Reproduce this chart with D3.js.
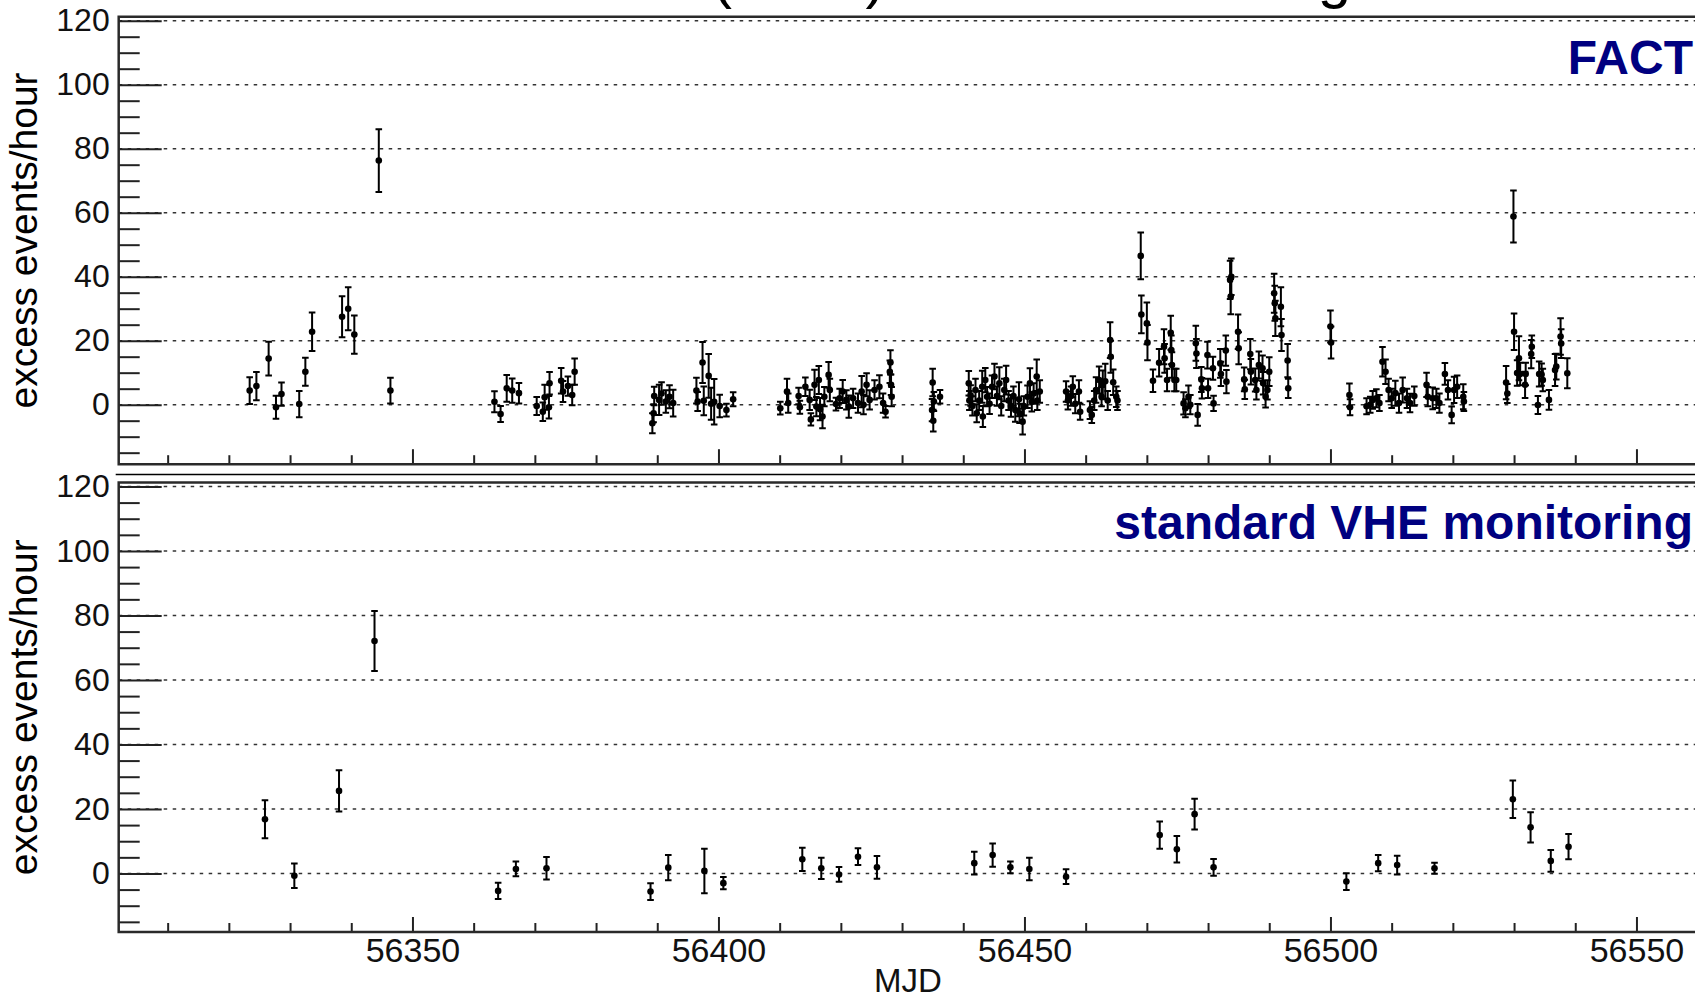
<!DOCTYPE html>
<html>
<head>
<meta charset="utf-8">
<script src="https://cdn.jsdelivr.net/npm/d3@7"></script>
<style>
    body { margin: 0; background: #fff; }
    svg { display: block; }
</style>
</head>
<body>
<svg id="chart" width="1695" height="998"></svg>
<script>
// FACT nightly excess rates (MJD, events/hour, error), one line per observation block
const factMjd = [
    56323.4, 56324.5, 56326.5, 56327.7, 56328.6, 56331.5, 56332.5, 56333.6, 56338.5, 56339.5, 56340.5, 56344.5, 56346.4,
    56363.4, 56364.4, 56365.4, 56366.3, 56367.4, 56370.3, 56371.3, 56371.6, 56372.3, 56372.4, 56374.3, 56374.6, 56375.4, 56376.1, 56376.5,
    56389.2, 56389.4, 56389.5, 56390.3, 56390.7, 56391.4, 56392.0, 56392.6, 56396.4, 56396.6, 56397.4, 56397.6, 56398.4, 56398.8, 56399.3, 56400.2, 56401.3, 56402.4,
    56410.1, 56411.2, 56411.4, 56413.1, 56413.3, 56414.2, 56414.9, 56415.1, 56415.7, 56416.0, 56416.4, 56416.6, 56417.0, 56417.3, 56418.0, 56418.2, 56419.2, 56419.8, 56420.3, 56420.9, 56421.3, 56422.0, 56422.8, 56423.4, 56423.7, 56424.2, 56424.7, 56425.5, 56426.3, 56426.9, 56427.3, 56428.0, 56428.1, 56428.2, 56428.3,
    56434.9, 56435.0, 56435.1, 56435.2, 56436.2,
    56440.9, 56441.0, 56441.2, 56441.5, 56442.0, 56442.2, 56442.6, 56443.1, 56443.2, 56443.6, 56443.9, 56444.3, 56444.7, 56445.1, 56445.5, 56445.9, 56446.2, 56446.7, 56447.0, 56447.4, 56447.8, 56448.2, 56448.5, 56449.1, 56449.2, 56449.7, 56449.9, 56450.5, 56450.9, 56451.2, 56451.5, 56452.0, 56452.1, 56452.5,
    56456.8, 56457.1, 56457.6, 56457.9, 56458.3, 56458.9, 56459.1,
    56460.7, 56461.0, 56461.4, 56461.7, 56462.2, 56462.6, 56462.8, 56463.2, 56463.6, 56464.0, 56464.1, 56464.5, 56465.0, 56465.2,
    56469.0, 56469.1, 56470.0, 56470.1, 56471.0, 56472.0, 56472.8, 56472.9, 56473.3, 56473.9, 56474.0, 56474.1, 56474.5, 56474.8,
    56476.0, 56476.3, 56476.8, 56477.1, 56478.0, 56478.1, 56478.3, 56478.9, 56479.0, 56479.9, 56480.0, 56480.8, 56480.9, 56482.0, 56482.1, 56482.9, 56483.0, 56483.6, 56483.7, 56483.8, 56484.9, 56485.0, 56485.9, 56486.0, 56486.9, 56487.0, 56487.7, 56487.9, 56488.3, 56488.9, 56489.0, 56489.4, 56489.7, 56490.0, 56490.8, 56490.9, 56491.0, 56491.9, 56492.0, 56493.0, 56493.1,
    56500.0, 56500.1, 56503.1, 56503.2, 56505.9, 56506.5, 56506.9, 56507.5, 56508.0, 56508.5, 56509.0, 56509.5, 56510.0, 56510.6, 56511.2, 56511.8, 56512.5, 56513.0, 56513.7, 56515.7, 56515.9, 56516.7, 56517.3, 56517.8, 56518.7, 56519.2, 56519.8, 56520.2, 56520.7, 56521.7, 56521.8,
    56528.7, 56528.9, 56529.9, 56530.0, 56530.5, 56530.8, 56531.0, 56531.8, 56531.9, 56532.8, 56532.9, 56533.9, 56534.1, 56534.5, 56534.7, 56535.7, 56536.7, 56536.9, 56537.6, 56537.7, 56538.7
];
const factRate = [
    4.4, 5.8, 14.4, -0.8, 3.3, 0.2, 10.3, 22.8, 27.5, 30.0, 21.9, 76.3, 4.4,
    0.9, -2.9, 5.1, 4.4, 3.6, -0.4, -2.2, 2.3, -0.8, 6.7, 7.5, 4.1, 5.8, 3.0, 10.3,
    -5.8, -2.7, 2.7, 1.5, 3.5, 1.0, 2.5, 0.5, 4.4, 1.0, 13.2, 1.2, 9.0, 0.3, 0.9, -0.4, -1.7, 1.7,
    -1.1, 4.1, 0.5, 2.7, -0.8, 5.6, 1.5, -4.6, 6.2, -0.6, 7.7, -1.4, -3.7, 2.5, 9.3, 4.6, 0.2, 2.0, 4.1, 1.5, -0.6, 2.0, 0.5, 4.1, 0.0, 6.2, 1.5, 4.6, 5.6, 0.5, -2.2, 10.3, 13.2, 6.2, 2.5,
    -1.7, 6.9, -5.0, 1.0, 2.5,
    6.7, 1.3, 2.9, -0.4, 4.6, -2.7, 1.3, 5.6, -3.7, 7.7, 2.5, 0.3, 5.6, 8.8, 2.7, 6.7, -0.4, 4.6, 7.7, 1.3, -0.4, 2.7, -1.7, 1.7, -2.7, -5.3, -0.4, 2.5, 6.7, 0.9, 3.5, 8.8, 1.3, 4.1,
    4.1, 1.3, 2.7, 5.6, 0.3, 4.1, -2.2,
    -1.7, -3.2, 1.3, 4.6, 7.7, 2.5, 6.2, 7.3, 1.3, 20.2, 15.0, 7.0, 2.5, 1.3,
    46.5, 28.2, 25.4, 19.4, 7.5, 13.1, 18.1, 14.5, 7.7, 22.5, 17.1, 12.4, 7.7, 7.7,
    0.4, -1.1, 2.5, 0.0, 19.2, 16.0, -3.2, 7.9, 5.1, 15.5, 5.1, 11.4, 0.4, 12.9, 9.6, 16.9, 7.2, 39.0, 33.8, 40.0, 22.8, 17.6, 7.9, 4.8, 15.8, 10.3, 7.7, 4.6, 12.4, 11.4, 6.7, 2.5, 4.6, 10.3, 34.8, 31.7, 27.0, 30.6, 21.8, 13.8, 5.1,
    24.4, 19.4, 3.0, -0.8, -0.5, 0.0, 1.5, 2.0, 0.5, 13.4, 10.3, 4.6, 2.0, 3.6, 0.5, 4.6, 2.0, 0.5, 2.7, 6.2, 2.5, 2.0, 2.0, 0.5, 9.6, 4.6, -3.2, 4.6, 5.6, 2.5, 1.0,
    6.9, 3.5, 58.8, 22.8, 9.9, 14.5, 9.6, 6.2, 9.6, 15.8, 18.1, -0.1, 9.6, 9.4, 7.7, 1.5, 10.8, 11.9, 21.3, 19.1, 9.8
];
const factErr = [
    4.2, 4.4, 5.3, 3.6, 3.6, 4.1, 4.4, 6.0, 6.4, 6.7, 6.0, 9.8, 4.0,
    3.3, 2.5, 4.2, 3.8, 3.2, 2.8, 2.9, 3.9, 3.5, 3.5, 4.0, 3.3, 3.0, 3.2, 4.1,
    3.1, 2.8, 2.9, 4.7, 3.5, 3.5, 3.6, 4.2, 4.0, 3.0, 6.4, 4.5, 6.8, 5.0, 7.1, 3.5, 2.0, 2.2,
    2.0, 4.0, 3.0, 2.6, 2.0, 2.9, 3.2, 1.9, 4.7, 3.0, 4.4, 3.5, 3.7, 3.0, 4.0, 3.5, 2.0, 3.0, 3.6, 3.0, 3.5, 3.0, 3.0, 4.9, 3.0, 3.6, 3.0, 3.0, 3.6, 3.0, 1.8, 3.5, 3.8, 3.2, 3.0,
    3.5, 4.3, 3.4, 3.0, 2.1,
    3.8, 3.0, 3.2, 3.0, 3.5, 2.8, 3.0, 5.0, 3.3, 3.8, 3.0, 3.2, 3.5, 4.0, 3.0, 5.0, 3.0, 3.5, 4.5, 3.0, 3.4, 3.0, 3.6, 5.3, 3.0, 4.0, 3.0, 3.5, 4.7, 3.0, 3.2, 5.3, 3.0, 3.5,
    3.2, 2.8, 3.0, 3.3, 3.0, 3.5, 2.5,
    2.8, 2.5, 3.0, 4.0, 4.2, 3.0, 4.5, 5.5, 3.0, 5.6, 5.0, 4.0, 3.2, 3.0,
    7.3, 5.9, 6.5, 5.5, 3.5, 4.3, 5.5, 4.5, 3.5, 5.3, 4.5, 4.0, 3.5, 3.5,
    3.5, 2.8, 3.5, 3.0, 5.5, 4.5, 3.4, 3.9, 3.2, 4.2, 3.0, 3.6, 2.4, 4.5, 3.8, 4.7, 3.6, 6.0, 5.5, 5.7, 5.4, 5.0, 3.7, 3.0, 4.7, 4.0, 3.6, 3.0, 4.2, 4.0, 3.5, 3.4, 3.0, 4.5, 6.1, 5.5, 5.5, 6.1, 5.0, 5.2, 3.0,
    5.0, 5.0, 3.6, 2.5, 2.5, 2.5, 2.8, 2.8, 2.5, 4.6, 3.8, 3.5, 3.0, 3.9, 3.0, 3.9, 3.0, 2.9, 3.0, 3.8, 3.0, 3.4, 3.0, 3.0, 3.4, 3.0, 2.6, 4.1, 3.5, 3.9, 3.0,
    5.2, 3.0, 8.1, 5.7, 4.0, 6.9, 3.5, 4.1, 3.5, 4.4, 3.5, 2.8, 3.9, 3.5, 3.5, 3.1, 5.0, 4.0, 5.7, 4.5, 4.7
];

// standard VHE monitoring
const vheMjd = [
    56325.9, 56330.7, 56338.0, 56343.8, 56364.0, 56366.9, 56371.9, 56388.9, 56391.8, 56397.7, 56400.8,
    56413.7, 56416.8, 56419.7, 56422.8, 56425.9, 56441.8, 56444.8, 56447.7, 56450.8, 56456.8,
    56472.1, 56474.9, 56477.8, 56480.9, 56502.6, 56507.8, 56510.9, 56517.0, 56529.8, 56532.7, 56536.0, 56538.9
];
const vheRate = [
    16.8, -0.7, 25.6, 72.1, -5.4, 1.4, 1.6, -5.6, 1.8, 0.8, -3.0,
    4.4, 1.6, -0.3, 5.2, 1.9, 3.2, 5.7, 1.9, 1.4, -1.0,
    11.9, 7.5, 18.4, 1.9, -2.5, 3.2, 2.6, 1.6, 23.0, 14.3, 3.9, 8.3
];
const vheErr = [
    5.9, 3.8, 6.4, 9.3, 2.5, 2.3, 3.5, 2.6, 3.9, 6.9, 1.9,
    3.6, 3.3, 2.3, 2.6, 3.5, 3.5, 3.6, 1.8, 3.5, 2.3,
    4.2, 4.1, 4.8, 2.6, 2.6, 2.5, 2.9, 1.7, 5.8, 4.7, 3.4, 3.9
];

const xMajorTicks = [56350, 56400, 56450, 56500, 56550];
const xMinorTicks = [56310, 56320, 56330, 56340, 56360, 56370, 56380, 56390, 56410, 56420, 56430, 56440,
    56460, 56470, 56480, 56490, 56510, 56520, 56530, 56540, 56560];
const yMajorTicks = [0, 20, 40, 60, 80, 100, 120];
const yMinorTicks = [-15, -10, -5, 5, 10, 15, 25, 30, 35, 45, 50, 55, 65, 70, 75, 85, 90, 95, 105, 110, 115];

const W = 1695, H = 998;
const plotLeft = 118.7;
const labelFont = "'Liberation Sans', Arial, Helvetica, sans-serif";
const navy = "#000080";

const svg = d3.select("#chart");

const x = d3.scaleLinear()
    .domain([56302, 56565])
    .range([plotLeft, plotLeft + 263 * 6.12]);

const panels = [
    {
        mjd: factMjd, rate: factRate, err: factErr,
        y: d3.scaleLinear().domain([-18.6, 121.25]).range([464.2, 16.7]),
        tag: "FACT", tagY: 74, xLabels: false
    },
    {
        mjd: vheMjd, rate: vheRate, err: vheErr,
        y: d3.scaleLinear().domain([-18.15, 121.2]).range([932, 482.6]),
        tag: "standard VHE monitoring", tagY: 539, xLabels: true
    }
];

// title of the figure, only its descenders reach into the picture
const titleText = "Mrk 501 (2013) FACT monitoring";
const title = svg.append("text")
    .attr("x", 0)
    .attr("y", -2.7)
    .attr("font-family", labelFont)
    .attr("font-size", 60)
    .attr("fill", "#000")
    .text(titleText);
const parenX = title.node().getStartPositionOfChar(titleText.indexOf("(")).x;
title.attr("x", 712 - parenX);

function drawPanel(p) {
    const g = svg.append("g");
    const [yBottom, yTop] = p.y.range();

    // dotted grid on the major y ticks
    g.append("g")
        .selectAll("line")
        .data(yMajorTicks)
        .join("line")
        .attr("x1", plotLeft)
        .attr("x2", W)
        .attr("y1", d => p.y(d))
        .attr("y2", d => p.y(d))
        .attr("stroke", "#333")
        .attr("stroke-width", 1.5)
        .attr("stroke-dasharray", "3.5,5.5");

    // y axis, ticks point into the frame
    const yAxis = g.append("g")
        .attr("transform", `translate(${plotLeft},0)`)
        .attr("color", "#222")
        .call(d3.axisLeft(p.y).tickValues(yMajorTicks).tickSize(-43).tickPadding(9).tickFormat(d3.format("d")));
    yAxis.select(".domain").remove();
    yAxis.selectAll("line").attr("stroke-width", 2);
    yAxis.selectAll("text")
        .attr("font-family", labelFont)
        .attr("font-size", 32)
        .attr("fill", "#111");

    const yMinor = g.append("g")
        .attr("transform", `translate(${plotLeft},0)`)
        .attr("color", "#222")
        .call(d3.axisLeft(p.y).tickValues(yMinorTicks).tickSize(-21).tickFormat(""));
    yMinor.select(".domain").remove();
    yMinor.selectAll("line").attr("stroke-width", 2);

    // x axis
    const xAxis = g.append("g")
        .attr("transform", `translate(0,${yBottom})`)
        .attr("color", "#222")
        .call(d3.axisBottom(x).tickValues(xMajorTicks).tickSize(-15).tickPadding(6)
            .tickFormat(p.xLabels ? d3.format("d") : ""));
    xAxis.select(".domain").remove();
    xAxis.selectAll("line").attr("stroke-width", 2);
    xAxis.selectAll("text")
        .attr("font-family", labelFont)
        .attr("font-size", 34)
        .attr("fill", "#111");

    const xMinor = g.append("g")
        .attr("transform", `translate(0,${yBottom})`)
        .attr("color", "#222")
        .call(d3.axisBottom(x).tickValues(xMinorTicks).tickSize(-9).tickFormat(""));
    xMinor.select(".domain").remove();
    xMinor.selectAll("line").attr("stroke-width", 2);

    // frame: left, top and bottom (right side is outside the picture)
    const frame = d3.path();
    frame.moveTo(W, yTop);
    frame.lineTo(plotLeft, yTop);
    frame.lineTo(plotLeft, yBottom);
    frame.lineTo(W, yBottom);
    g.append("path")
        .attr("d", frame.toString())
        .attr("fill", "none")
        .attr("stroke", "#2a2a2a")
        .attr("stroke-width", 2.5);

    // error bars with small caps, then markers
    const pts = p.mjd.map((m, i) => ({ mjd: m, rate: p.rate[i], err: p.err[i] }));
    const capHalf = 3.3;
    g.append("g")
        .selectAll("path")
        .data(pts)
        .join("path")
        .attr("d", d => {
            const cx = x(d.mjd);
            const y1 = p.y(d.rate + d.err);
            const y2 = p.y(d.rate - d.err);
            return `M${cx},${y1}V${y2}M${cx - capHalf},${y1}H${cx + capHalf}M${cx - capHalf},${y2}H${cx + capHalf}`;
        })
        .attr("fill", "none")
        .attr("stroke", "#000")
        .attr("stroke-width", 2);

    g.append("g")
        .selectAll("circle")
        .data(pts)
        .join("circle")
        .attr("cx", d => x(d.mjd))
        .attr("cy", d => p.y(d.rate))
        .attr("r", 3.3)
        .attr("fill", "#000");

    // y axis title
    g.append("text")
        .attr("transform", `translate(36.5,${(yTop + yBottom) / 2}) rotate(-90)`)
        .attr("text-anchor", "middle")
        .attr("font-family", labelFont)
        .attr("font-size", 39)
        .attr("fill", "#000")
        .text("excess events/hour");

    // panel tag
    g.append("text")
        .attr("x", 1693)
        .attr("y", p.tagY)
        .attr("text-anchor", "end")
        .attr("font-family", labelFont)
        .attr("font-size", 48)
        .attr("font-weight", "bold")
        .attr("fill", navy)
        .text(p.tag);
}

panels.forEach(drawPanel);

// thin line between the two pads
svg.append("line")
    .attr("x1", 115.7)
    .attr("x2", W)
    .attr("y1", 474.5)
    .attr("y2", 474.5)
    .attr("stroke", "#000")
    .attr("stroke-width", 1.3);

svg.append("text")
    .attr("x", 908)
    .attr("y", 991.5)
    .attr("text-anchor", "middle")
    .attr("font-family", labelFont)
    .attr("font-size", 33)
    .attr("fill", "#111")
    .text("MJD");
</script>
</body>
</html>
